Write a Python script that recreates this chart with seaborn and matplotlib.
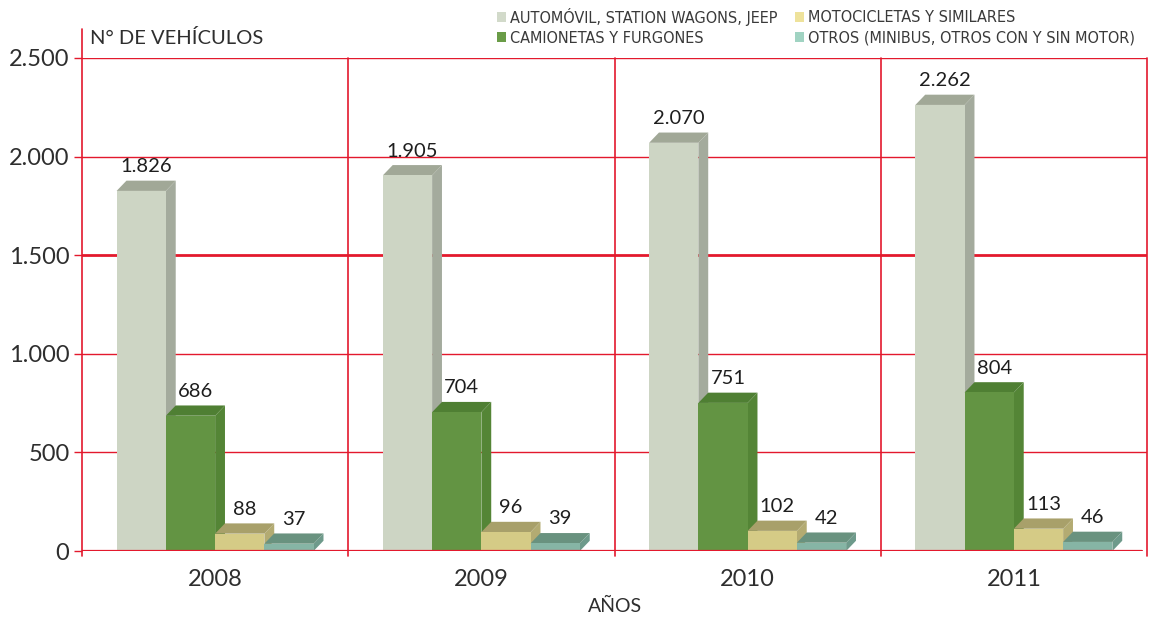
import numpy as np
import pandas as pd
import matplotlib
matplotlib.use("Agg")
import matplotlib.pyplot as plt
from matplotlib.patches import Polygon, Patch
from matplotlib import font_manager
from matplotlib.font_manager import FontProperties
import seaborn as sns

# ---- data ----
years = ["2008", "2009", "2010", "2011"]
categories = [
    "AUTOMÓVIL, STATION WAGONS, JEEP",
    "CAMIONETAS Y FURGONES",
    "MOTOCICLETAS Y SIMILARES",
    "OTROS (MINIBUS, OTROS CON Y SIN MOTOR)",
]
automovil = [1826, 1905, 2070, 2262]
camionetas = [686, 704, 751, 804]
motocicletas = [88, 96, 102, 113]
otros = [37, 39, 42, 46]
y_ticks = [0, 500, 1000, 1500, 2000, 2500]

series = [automovil, camionetas, motocicletas, otros]
df = pd.DataFrame(
    [(y, c, v[i]) for c, v in zip(categories, series) for i, y in enumerate(years)],
    columns=["año", "tipo", "valor"],
)

# ---- styling ----
front_colors = ["#CDD5C4", "#639443", "#D5CB86", "#86B5A5"]
side_colors = ["#A4AB9D", "#548536", "#B3AB72", "#6E9A8B"]
top_colors = ["#A1A897", "#4F7F33", "#A8A06A", "#69927F"]
legend_colors = ["#D2DACA", "#6A9C47", "#EEE29B", "#A0D3C2"]
red = "#E3192D"
text_color = "#2E2E2E"

sns.set_theme(style="white")
avail = {f.name for f in font_manager.fontManager.ttflist}
main_font = "Lato" if "Lato" in avail else "DejaVu Sans"
plt.rcParams["font.family"] = [main_font, "DejaVu Sans"]

# a condensed face for the legend, if one is installed
narrow_file = None
for f in font_manager.fontManager.ttflist:
    low = f.fname.lower()
    if ("narrow" in low or "condensed" in low) and "bold" not in low and "italic" not in low \
            and "oblique" not in low and "light" not in low:
        narrow_file = f.fname
        break
if narrow_file:
    legend_prop = FontProperties(fname=narrow_file, size=11.6)
else:
    legend_prop = FontProperties(family=main_font, size=10)

fig = plt.figure(figsize=(11.57, 6.19), dpi=100)
ax = fig.add_axes([82 / 1157, 1 - 551 / 619, (1147 - 82) / 1157, (551 - 58) / 619])

sns.barplot(
    data=df, x="año", y="valor", hue="tipo", hue_order=categories,
    palette=front_colors, width=0.74, saturation=1, legend=False,
    edgecolor="none", linewidth=0, ax=ax,
)

ax.set_xlim(-0.5, 3.5)
ax.set_ylim(0, 2500)

# depth of the pseudo-3D extrusion, in data units
dx = 0.037
dy = 52

for i, cont in enumerate(ax.containers):
    for bar, val in zip(cont.patches, series[i]):
        x0 = bar.get_x()
        w = bar.get_width()
        h = bar.get_height()
        bar.set_zorder(10 + 2 * i + 1)
        side = Polygon([(x0 + w, 0), (x0 + w + dx, dy), (x0 + w + dx, h + dy), (x0 + w, h)],
                       closed=True, facecolor=side_colors[i], edgecolor="none", zorder=10 + 2 * i)
        top = Polygon([(x0, h), (x0 + w, h), (x0 + w + dx, h + dy), (x0 + dx, h + dy)],
                      closed=True, facecolor=top_colors[i], edgecolor="none", zorder=10 + 2 * i)
        ax.add_patch(side)
        ax.add_patch(top)
        label = f"{val:,}".replace(",", ".")
        ax.annotate(label, (x0 + w / 2 + dx / 2, h + dy), xytext=(0, 4),
                    textcoords="offset points", ha="center", va="bottom",
                    fontsize=14.5, color="#1E1E1E", zorder=30)

# grid: horizontal red lines, heavier at 1.500
for t in y_ticks[1:]:
    ax.axhline(t, color=red, lw=2.0 if t == 1500 else 1.0, zorder=1)
ax.axhline(0, color=red, lw=1.6, zorder=25, xmin=0, xmax=0.995)
# vertical separators between years
for k, xv in enumerate([-0.5, 0.5, 1.5, 2.5, 3.5]):
    ytop = 1.058 if k == 0 else 1.0
    ax.plot([xv, xv], [-0.01, ytop], transform=ax.get_xaxis_transform(),
            color=red, lw=1.2, clip_on=False, zorder=2)

for s in ax.spines.values():
    s.set_visible(False)

ax.set_yticks(y_ticks)
ax.set_yticklabels([f"{t:,}".replace(",", ".") for t in y_ticks])
ax.tick_params(axis="y", length=6, width=1, color=red, labelsize=17,
               labelcolor=text_color, pad=3, left=True)
ax.tick_params(axis="x", length=0, labelsize=17, labelcolor=text_color, pad=13)
ax.set_xlabel("AÑOS", fontsize=14, color=text_color, labelpad=6)
ax.set_ylabel("")

fig.text(90 / 1157, 1 - 38 / 619, "N° DE VEHÍCULOS", fontsize=14.5,
         color=text_color, va="center", ha="left")

handles = [Patch(facecolor=c, edgecolor="none") for c in legend_colors]
fig.legend(handles, categories, loc="upper left", bbox_to_anchor=(482 / 1157, 1 + 7 / 619),
           ncol=2, frameon=False, handlelength=0.6, handleheight=0.6,
           handletextpad=0.25, columnspacing=1.05, labelspacing=0.32,
           prop=legend_prop, labelcolor="#3A3A3A")

fig.savefig("out.png", dpi=100)
